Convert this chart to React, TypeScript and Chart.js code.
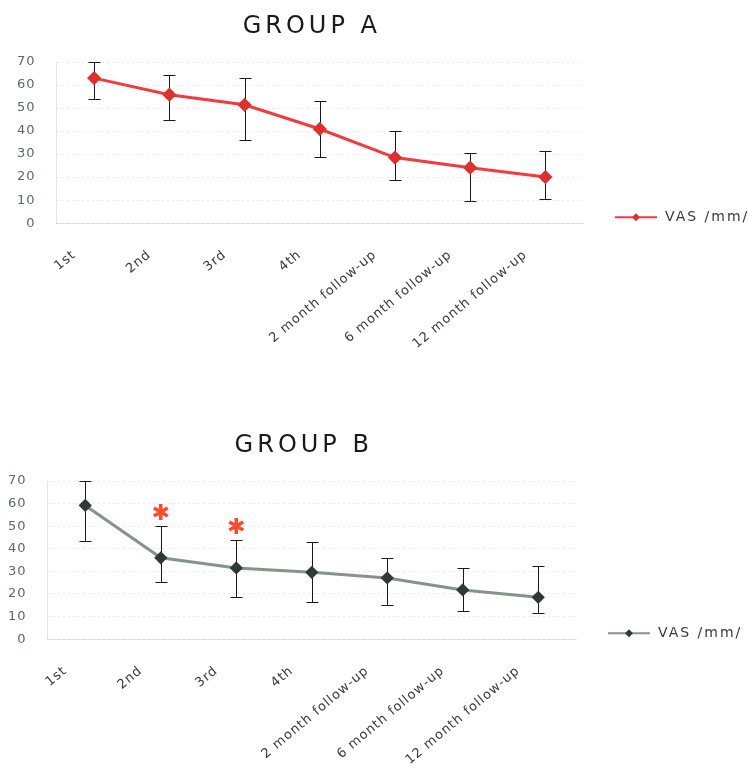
import React, { useEffect, useRef } from 'react';
import { Chart, registerables } from 'chart.js';

Chart.register(...registerables);

// ---- data ----
const categories = ['1st', '2nd', '3rd', '4th', '2 month follow-up', '6 month follow-up', '12 month follow-up'];
const yTicks = [0, 10, 20, 30, 40, 50, 60, 70];
const seriesLabel = 'VAS /mm/';

const titleA = 'GROUP A';
const meanA = [63, 55.8, 51.4, 40.9, 28.5, 24.1, 20.0];
const upperA = [70, 64.5, 62.9, 52.9, 39.9, 30.6, 31.4];
const lowerA = [54, 44.8, 36.3, 28.9, 18.6, 9.8, 10.7];
const sigA = [false, false, false, false, false, false, false];

const titleB = 'GROUP B';
const meanB = [59.2, 36, 31.5, 29.6, 27.1, 21.8, 18.5];
const upperB = [70, 49.9, 43.7, 42.8, 35.8, 31.4, 32.3];
const lowerB = [43.4, 25.2, 18.5, 16.3, 15.2, 12.3, 11.4];
const sigB = [false, true, true, false, false, false, false];

const FONT = '"DejaVu Sans", "Liberation Sans", sans-serif';

type Props = {
  title: string;
  mean: number[];
  upper: number[];
  lower: number[];
  sig: boolean[];
  lineColor: string;
  pointColor: string;
  lineWidth: number;
  pointRadius: number;
  padding: { top: number; left: number; right: number; bottom: number };
  top: number;
};

function GroupChart(p: Props) {
  const ref = useRef<HTMLCanvasElement>(null);
  useEffect(() => {
    const canvas = ref.current!;
    const setLs = (chart: any) => {
      chart.ctx.letterSpacing = '1px';
    };
    const extras = {
      id: 'groupExtras',
      beforeUpdate: setLs,
      beforeLayout: setLs,
      beforeDraw: setLs,
      beforeDatasetsDraw(chart: any) {
        const ctx = chart.ctx;
        const xs = chart.scales.x;
        const ys = chart.scales.y;
        ctx.save();
        ctx.strokeStyle = '#1a1a1a';
        ctx.lineWidth = 1;
        const cap = 6;
        for (let i = 0; i < p.mean.length; i++) {
          const x = Math.round(xs.getPixelForValue(i)) + 0.5;
          const yu = Math.round(ys.getPixelForValue(p.upper[i])) + 0.5;
          const yl = Math.round(ys.getPixelForValue(p.lower[i])) + 0.5;
          ctx.beginPath();
          ctx.moveTo(x, yu);
          ctx.lineTo(x, yl);
          ctx.moveTo(x - cap, yu);
          ctx.lineTo(x + cap, yu);
          ctx.moveTo(x - cap, yl);
          ctx.lineTo(x + cap, yl);
          ctx.stroke();
        }
        ctx.restore();
      },
      afterDraw(chart: any) {
        const ctx = chart.ctx;
        const area = chart.chartArea;
        const xs = chart.scales.x;
        const ys = chart.scales.y;
        // title
        ctx.save();
        ctx.letterSpacing = '4px';
        ctx.font = '24px ' + FONT;
        ctx.fillStyle = '#1a1a1a';
        ctx.textAlign = 'center';
        ctx.textBaseline = 'middle';
        ctx.fillText(p.title, (area.left + area.right) / 2 - 8, area.top - 35);
        ctx.restore();
        // legend
        ctx.save();
        const lx = area.right + 32;
        const ly = area.bottom - 6;
        ctx.strokeStyle = p.lineColor;
        ctx.lineWidth = 2;
        ctx.beginPath();
        ctx.moveTo(lx, ly);
        ctx.lineTo(lx + 42, ly);
        ctx.stroke();
        ctx.fillStyle = p.pointColor;
        const d = 4;
        ctx.beginPath();
        ctx.moveTo(lx + 21, ly - d);
        ctx.lineTo(lx + 21 + d, ly);
        ctx.lineTo(lx + 21, ly + d);
        ctx.lineTo(lx + 21 - d, ly);
        ctx.closePath();
        ctx.fill();
        ctx.letterSpacing = '2px';
        ctx.font = '14px ' + FONT;
        ctx.fillStyle = '#3a3a3a';
        ctx.textAlign = 'left';
        ctx.textBaseline = 'middle';
        ctx.fillText(chart.data.datasets[0].label, lx + 50, ly);
        ctx.restore();
        // significance stars
        ctx.save();
        ctx.strokeStyle = '#ff4a2a';
        ctx.lineWidth = 3.5;
        ctx.lineCap = 'butt';
        for (let i = 0; i < p.sig.length; i++) {
          if (!p.sig[i]) continue;
          const x = xs.getPixelForValue(i);
          const y = ys.getPixelForValue(p.upper[i]) - 14.5;
          const r = 8;
          ctx.beginPath();
          for (const a of [Math.PI / 2, Math.PI / 6, (5 * Math.PI) / 6]) {
            ctx.moveTo(x - r * Math.cos(a), y - r * Math.sin(a));
            ctx.lineTo(x + r * Math.cos(a), y + r * Math.sin(a));
          }
          ctx.stroke();
        }
        ctx.restore();
      },
    };

    const chart = new Chart(canvas, {
      type: 'line',
      data: {
        labels: categories,
        datasets: [
          {
            label: seriesLabel,
            data: p.mean,
            borderColor: p.lineColor,
            backgroundColor: p.pointColor,
            borderWidth: p.lineWidth,
            pointStyle: 'rectRot',
            pointRadius: p.pointRadius,
            pointBackgroundColor: p.pointColor,
            pointBorderColor: p.pointColor,
            tension: 0,
            fill: false,
          },
        ],
      },
      options: {
        responsive: false,
        animation: false,
        layout: { padding: p.padding },
        plugins: {
          legend: { display: false },
          title: { display: false },
          tooltip: { enabled: false },
        },
        scales: {
          x: {
            offset: true,
            grid: { display: false, drawTicks: true, tickLength: 24, tickColor: 'rgba(0,0,0,0)' },
            border: { color: 'rgba(0,0,0,0.1)' },
            ticks: {
              autoSkip: false,
              minRotation: 40,
              maxRotation: 40,
              padding: 0,
              labelOffset: -20,
              color: '#3a3a3a',
              font: { family: FONT, size: 13 },
            },
          },
          y: {
            min: 0,
            max: 70,
            afterBuildTicks: (s: any) => {
              s.ticks = yTicks.map((v) => ({ value: v }));
            },
            grid: { color: 'rgba(0,0,0,0.08)', drawTicks: true, tickLength: 19, tickColor: 'rgba(0,0,0,0)' },
            border: { color: 'rgba(0,0,0,0.1)', dash: [2, 3] },
            ticks: {
              padding: 2,
              color: '#5a6774',
              font: { family: FONT, size: 13 },
            },
          },
        },
      },
      plugins: [extras],
    } as any);
    return () => chart.destroy();
  }, []);
  return (
    <div style={{ position: 'absolute', left: 0, top: p.top, width: 750, height: 400 }}>
      <canvas ref={ref} width={750} height={400} />
    </div>
  );
}

export default function App() {
  return (
    <div style={{ position: 'fixed', left: 0, top: 0, width: 750, height: 769, overflow: 'hidden', background: '#fff' }}>
      <GroupChart
        title={titleA}
        mean={meanA}
        upper={upperA}
        lower={lowerA}
        sig={sigA}
        lineColor="#f23a3f"
        pointColor="#e0302c"
        lineWidth={3}
        pointRadius={5}
        padding={{ top: 62, left: 15, right: 167, bottom: 48 }}
        top={0}
      />
      <GroupChart
        title={titleB}
        mean={meanB}
        upper={upperB}
        lower={lowerB}
        sig={sigB}
        lineColor="#85938b"
        pointColor="#2f3a33"
        lineWidth={3}
        pointRadius={4.5}
        padding={{ top: 62, left: 6, right: 174, bottom: 51 }}
        top={419}
      />
    </div>
  );
}
